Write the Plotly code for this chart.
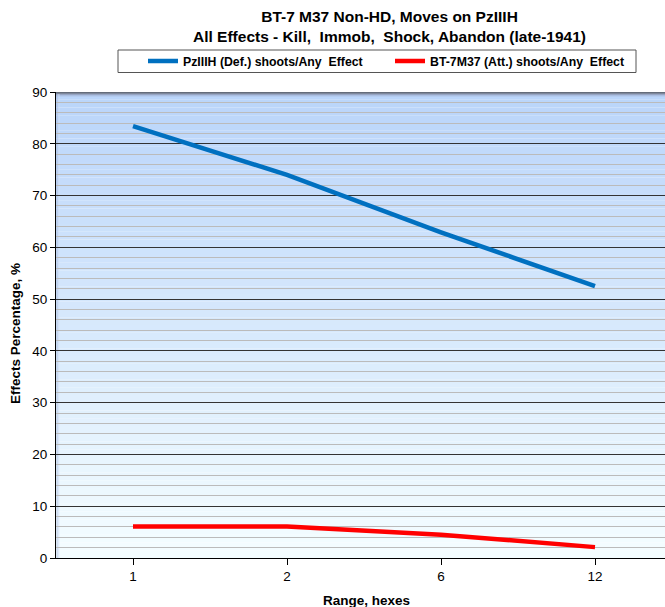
import plotly.graph_objects as go

ranges = ["1", "2", "6", "12"]
pz_def = [83.4, 74.0, 62.9, 52.5]
bt_att = [6.1, 6.1, 4.5, 2.1]
names = ["PzIIIH (Def.) shoots/Any  Effect", "BT-7M37 (Att.) shoots/Any  Effect"]
title_lines = ["BT-7 M37 Non-HD, Moves on PzIIIH", "All Effects - Kill,  Immob,  Shock, Abandon (late-1941)"]

W, H = 665, 607
L, T, B = 56, 92, 49
pw, ph = W - L, H - T - B
FONT = "Liberation Sans, Arial, sans-serif"


def px2x(px):
    return (px - L) / pw


def py2y(py):
    return (H - B - py) / ph


fig = go.Figure()
fig.add_trace(go.Scatter(x=list(range(len(ranges))), y=pz_def, mode="lines", name=names[0],
                         line=dict(color="#0070c0", width=4.5), legend="legend"))
fig.add_trace(go.Scatter(x=list(range(len(ranges))), y=bt_att, mode="lines", name=names[1],
                         line=dict(color="#ff0000", width=4.5), legend="legend2"))

shapes = []
top = (186, 213, 250)
bot = (244, 253, 255)
n = 60
for i in range(n):
    f = i / (n - 1)
    c = tuple(round(top[k] + (bot[k] - top[k]) * f) for k in range(3))
    shapes.append(dict(type="rect", xref="x domain", yref="y domain", x0=0, x1=1,
                       y0=1 - (i + 1) / n, y1=1 - i / n, fillcolor="rgb(%d,%d,%d)" % c,
                       line=dict(width=0), layer="below"))
shade = [(100, 108, 122), (125, 135, 155), (150, 165, 195), (170, 190, 225), (180, 204, 240)]
for i, c in enumerate(shade):
    shapes.append(dict(type="rect", xref="x domain", yref="y domain", x0=0, x1=1,
                       y0=1 - (i + 1) / ph, y1=1 - i / ph, fillcolor="rgb(%d,%d,%d)" % c,
                       line=dict(width=0), layer="below"))
lshade = [(160, 180, 215), (190, 205, 235), (215, 228, 248)]
for i, c in enumerate(lshade):
    shapes.append(dict(type="rect", xref="x domain", yref="y domain", x0=(i + 0.5) / pw, x1=(i + 1.5) / pw,
                       y0=0, y1=1 - 2 / ph, fillcolor="rgba(%d,%d,%d,0.6)" % c,
                       line=dict(width=0), layer="below"))
# legend box
shapes.append(dict(type="rect", xref="paper", yref="paper",
                   x0=px2x(118), x1=px2x(636), y0=py2y(72.5), y1=py2y(50),
                   line=dict(color="#555555", width=1), fillcolor="rgba(0,0,0,0)"))

leg_common = dict(orientation="h", xanchor="left", yanchor="middle",
                  bgcolor="rgba(0,0,0,0)", borderwidth=0,
                  font=dict(size=12.3, family=FONT, weight="bold"), itemwidth=30)

fig.update_layout(
    width=W, height=H,
    margin=dict(l=L, r=0, t=T, b=B),
    paper_bgcolor="white", plot_bgcolor="white",
    font=dict(family=FONT, color="black"),
    showlegend=True,
    legend=dict(x=px2x(143), y=py2y(61), **leg_common),
    legend2=dict(x=px2x(390), y=py2y(61), **leg_common),
    shapes=shapes,
    xaxis=dict(range=[-0.5, pw / 154 - 0.5], tickmode="array",
               tickvals=list(range(len(ranges))), ticktext=ranges,
               showgrid=False, zeroline=False, showline=True, linecolor="black", linewidth=1,
               ticks="outside", ticklen=6, tickcolor="black", tickfont=dict(size=13.5)),
    yaxis=dict(range=[0, 90], dtick=10, showgrid=True, gridcolor="#333333", gridwidth=1,
               zeroline=False, showline=True, linecolor="black", linewidth=1,
               ticks="outside", ticklen=5, tickcolor="black", tickfont=dict(size=13.5),
               minor=dict(dtick=2, showgrid=True, gridcolor="#bbbbbb", gridwidth=1)),
    annotations=[
        dict(text="<b>" + title_lines[0] + "<br>" + title_lines[1] + "</b>", xref="paper", yref="paper",
             x=px2x(389), y=py2y(27), xanchor="center", yanchor="middle", showarrow=False,
             font=dict(size=15.5, family=FONT)),
        dict(text="<b>Range, hexes</b>", xref="paper", yref="paper", x=px2x(366), y=py2y(600),
             xanchor="center", yanchor="middle", showarrow=False, font=dict(size=13.5)),
        dict(text="<b>Effects Percentage, %</b>", xref="paper", yref="paper", x=px2x(15), y=py2y(334),
             xanchor="center", yanchor="middle", textangle=-90, showarrow=False, font=dict(size=13.5)),
    ],
)

fig.write_html("out.html")
